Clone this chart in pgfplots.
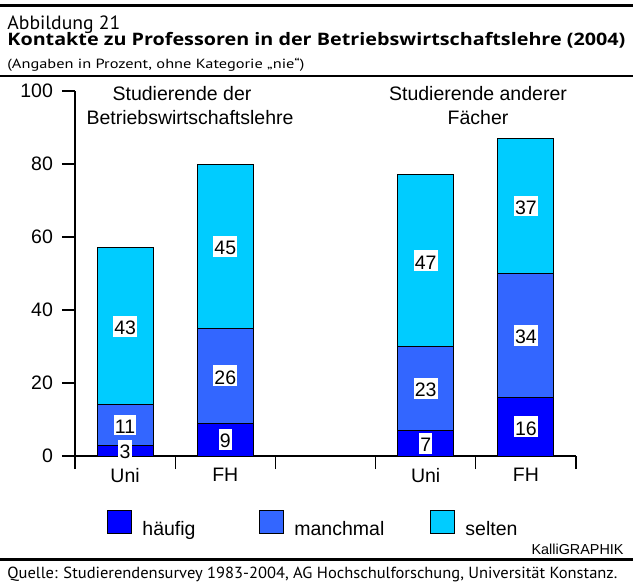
\documentclass[border=0pt]{standalone}
\usepackage{fontspec}
\setmainfont{Liberation Sans}
\newfontfamily\ptsans{PT Sans}
\newfontfamily\opensans{Open Sans}
\usepackage{graphicx}
\usepackage{pgfplots}
\pgfplotsset{compat=1.18}
\definecolor{haeufig}{HTML}{0000FF}
\definecolor{manchmal}{HTML}{3366FF}
\definecolor{selten}{HTML}{00CCFF}
\newcommand{\chartfont}{\fontsize{9.75pt}{11pt}\selectfont}
\pgfplotsset{mylegend/.style={legend image code/.code={\draw[#1,draw=black,line width=0.5pt] (0pt,-1.75pt) rectangle (12pt,9.75pt);}}}
\begin{document}
\begin{tikzpicture}
\useasboundingbox (0pt,0pt) rectangle (316.5pt,-291.5pt);
% rules
\draw[line width=1.2pt] (0pt,-2.75pt) -- (316.5pt,-2.75pt);
\draw[line width=1.3pt] (0pt,-38pt) -- (316.5pt,-38pt);
\draw[line width=1.4pt] (0pt,-279.75pt) -- (316.5pt,-279.75pt);
% header
\node[anchor=base west, inner sep=0pt, font=\ptsans\fontsize{9.6pt}{11pt}\selectfont] at (3.5pt,-14.65pt) {\resizebox{56.5pt}{\height}{Abbildung 21}};
\node[anchor=base west, inner sep=0pt, font=\opensans\bfseries\fontsize{8.6pt}{11pt}\selectfont] at (3.5pt,-22.65pt) {\resizebox{309pt}{\height}{Kontakte zu Professoren in der Betriebswirtschaftslehre (2004)}};
\node[anchor=base west, inner sep=0pt, font=\ptsans\fontsize{6.65pt}{8pt}\selectfont] at (3.5pt,-34.15pt) {\resizebox{148.5pt}{\height}{(Angaben in Prozent, ohne Kategorie „nie“)}};
% footer
\node[anchor=base west, inner sep=0pt, font=\ptsans\fontsize{8.05pt}{10pt}\selectfont] at (3.5pt,-289.5pt) {\resizebox{305pt}{\height}{Quelle: Studierendensurvey 1983-2004, AG Hochschulforschung, Universität Konstanz.}};
\node[anchor=base east, inner sep=0pt, font=\fontsize{7.2pt}{9pt}\selectfont] at (312pt,-277pt) {KalliGRAPHIK};
% group headings
\node[anchor=base, inner sep=0pt, font=\chartfont] at (91pt,-50.35pt) {Studierende der};
\node[anchor=base, inner sep=0pt, font=\chartfont] at (95pt,-62.15pt) {Betriebswirtschaftslehre};
\node[anchor=base, inner sep=0pt, font=\chartfont] at (239pt,-50.35pt) {Studierende anderer};
\node[anchor=base, inner sep=0pt, font=\chartfont] at (239pt,-62.15pt) {Fächer};
\begin{axis}[
  at={(37.5pt,-228pt)}, anchor=south west,
  scale only axis, width=250.5pt, height=182.5pt,
  xmin=0, xmax=5, ymin=0, ymax=100,
  axis x line*=bottom, axis y line*=left,
  axis line style={line width=0.6pt},
  /pgf/number format/assume math mode=true,
  xtick={0,1,2,3,4,5}, xticklabels={},
  extra x ticks={0.5,1.5,3.5,4.5},
  extra x tick labels={Uni,FH,Uni,FH},
  extra x tick style={major tick length=0pt, xticklabel style={yshift=-2.6pt}},
  ytick={0,20,40,60,80,100},
  tick align=outside, major tick length=6.5pt,
  tick style={black, line width=0.6pt},
  ticklabel style={font=\chartfont},
  yticklabel style={xshift=-1pt},
  ybar stacked, bar width=0.56,
  point meta=rawy,
  nodes near coords,
  every node near coord/.append style={font=\chartfont, text=black, fill=white, inner xsep=0.6pt, inner ysep=1pt, text height=8.4pt, text depth=0pt, anchor=center},
  legend style={at={(0.0639,-0.188)}, anchor=west, draw=none, fill=none, inner sep=0pt, font=\chartfont, nodes={inner sep=0pt}, /tikz/every odd column/.style={column sep=5pt}},
  legend columns=3,
  legend cell align=left,
]
\addplot[fill=haeufig, draw=black, line width=0.5pt, mylegend] coordinates {(0.5,3) (1.5,9) (3.5,7) (4.5,16)};
\addlegendentry{\makebox[58.5pt][l]{häufig}}
\addplot[fill=manchmal, draw=black, line width=0.5pt, mylegend] coordinates {(0.5,11) (1.5,26) (3.5,23) (4.5,34)};
\addlegendentry{\makebox[68pt][l]{manchmal}}
\addplot[fill=selten, draw=black, line width=0.5pt, mylegend] coordinates {(0.5,43) (1.5,45) (3.5,47) (4.5,37)};
\addlegendentry{selten}
\end{axis}
\end{tikzpicture}
\end{document}
